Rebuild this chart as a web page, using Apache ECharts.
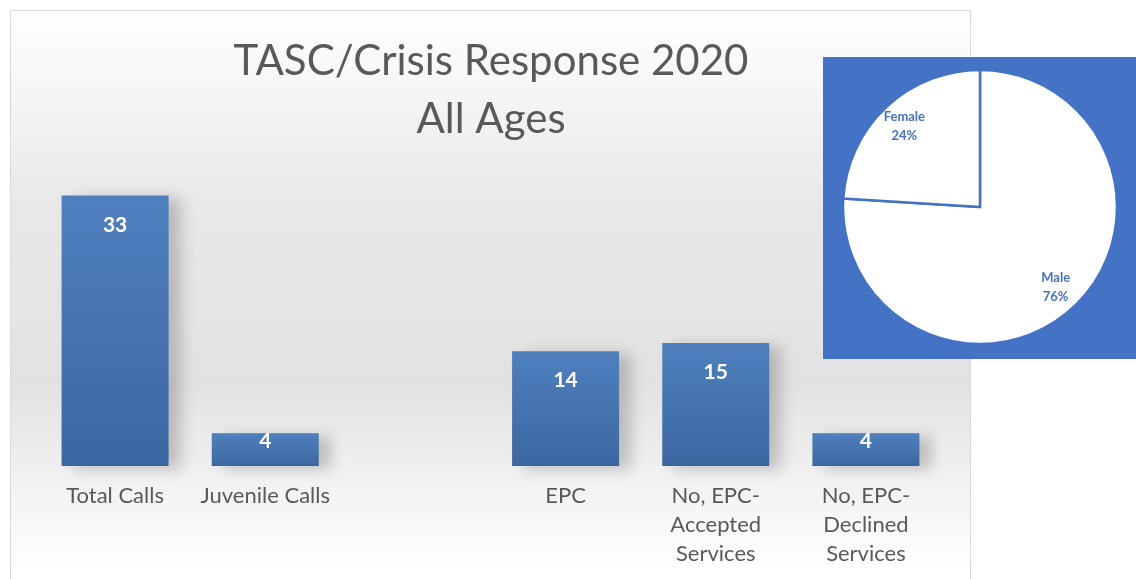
<!DOCTYPE html>
<html>
<head>
<meta charset="utf-8">
<script src="https://cdn.jsdelivr.net/npm/echarts@6/dist/echarts.min.js"></script>
<style>
html,body{margin:0;padding:0;background:#fff;}
#c{width:1136px;height:579px;}
</style>
</head>
<body>
<div id="c"></div>
<script>
const categories = ['Total Calls', 'Juvenile Calls', '', 'EPC', 'No, EPC-\nAccepted\nServices', 'No, EPC-\nDeclined\nServices'];
const values = [33, 4, null, 14, 15, 4];
const titleLines = ['TASC/Crisis Response 2020', 'All Ages'];
const genderNames = ['Male', 'Female'];
const genderShares = [76, 24];

const chart = echarts.init(document.getElementById('c'));
const FONT = 'Lato, "Open Sans", sans-serif';

const barData = values.map(v => v == null ? null : {
  value: v,
  label: { distance: v < 6 ? -2 : 19 }
});

const pieData = genderNames.map((n, i) => ({ name: n, value: genderShares[i] }));

chart.setOption({
  animation: false,
  graphic: [
    {
      type: 'rect', z: -10, silent: true,
      shape: { x: 10.5, y: 10.5, width: 960, height: 600 },
      style: {
        fill: new echarts.graphic.LinearGradient(0, 0, 0, 1, [
          { offset: 0, color: '#ffffff' },
          { offset: 0.33, color: '#e8e8e8' },
          { offset: 0.62, color: '#e2e2e2' },
          { offset: 0.93, color: '#ffffff' },
          { offset: 1, color: '#ffffff' }
        ]),
        stroke: '#d9d9d9', lineWidth: 1
      }
    },
    {
      type: 'rect', z: -5, silent: true,
      shape: { x: 823, y: 57, width: 313, height: 302 },
      style: { fill: '#4472c4' }
    },
    {
      type: 'text', z: 5, silent: true,
      style: {
        x: 491, y: 32,
        text: titleLines.join('\n'),
        textAlign: 'center', textVerticalAlign: 'top',
        fontFamily: FONT, fontSize: 42, lineHeight: 58,
        fill: '#595959'
      }
    }
  ],
  grid: { left: 40, right: 195, top: 138, bottom: 113 },
  xAxis: {
    type: 'category',
    data: categories,
    axisLine: { show: false },
    axisTick: { show: false },
    axisLabel: {
      interval: 0, margin: 15,
      fontFamily: FONT, fontSize: 22, lineHeight: 29,
      color: '#595959'
    }
  },
  yAxis: {
    type: 'value', min: 0, max: 40,
    show: false, splitLine: { show: false }
  },
  series: [
    {
      type: 'bar',
      data: barData,
      barWidth: 107,
      itemStyle: {
        color: new echarts.graphic.LinearGradient(0, 0, 0, 1, [
          { offset: 0, color: '#4f80bd' },
          { offset: 1, color: '#3b67a1' }
        ]),
        shadowColor: 'rgba(0,0,0,0.2)',
        shadowBlur: 14,
        shadowOffsetX: 12,
        shadowOffsetY: 3
      },
      label: {
        show: true, position: 'insideTop',
        color: '#ffffff', fontWeight: 'bold',
        fontFamily: FONT, fontSize: 21
      }
    },
    {
      type: 'pie',
      center: [980, 207],
      radius: [0, 137],
      startAngle: 90,
      clockwise: true,
      silent: true,
      data: pieData,
      itemStyle: { color: '#ffffff', borderColor: '#4472c4', borderWidth: 2.5 },
      label: { show: false },
      labelLine: { show: false },
      z: 3
    },
    {
      type: 'pie',
      center: [980, 207],
      radius: [78, 137],
      startAngle: 90,
      clockwise: true,
      silent: true,
      data: pieData,
      itemStyle: { color: 'rgba(0,0,0,0)', borderWidth: 0 },
      label: {
        show: true, position: 'inside',
        formatter: p => p.name + '\n' + p.value + '%',
        color: '#4472c4', fontWeight: 'bold',
        fontFamily: FONT, fontSize: 13, lineHeight: 19
      },
      labelLine: { show: false },
      z: 4
    }
  ]
});
</script>
</body>
</html>
